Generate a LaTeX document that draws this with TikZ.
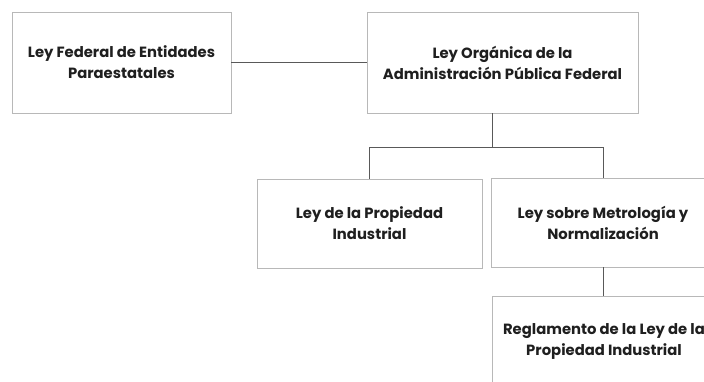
\documentclass[tikz,border=0pt]{standalone}
\usepackage{fontspec}
\setmainfont{Poppins}
\begin{document}
\begin{tikzpicture}[x=1pt,y=-1pt,
  box/.style={draw=black!28, line width=0.8pt, fill=white, minimum width=#1, align=center, text=black!88, font=\bfseries\fontsize{14.8}{21}\selectfont, inner sep=0pt},
  link/.style={draw=black!65, line width=0.9pt}]
\useasboundingbox (0,0) rectangle (704,381);
\clip (0,0) rectangle (704,381);
\fill[white] (0,0) rectangle (704,381);
\node[box=219pt, minimum height=101pt] (lfe) at (121.5,62.5) {Ley Federal de Entidades\\Paraestatales};
\node[box=271pt, minimum height=101pt] (loa) at (502.5,62.5) {Ley Orgánica de la\\Administración Pública Federal};
\node[box=225pt, minimum height=89pt] (lpi) at (369.5,223.5) {Ley de la Propiedad\\Industrial};
\node[box=224pt, minimum height=89pt] (lmn) at (603,222.5) {Ley sobre Metrología y\\Normalización};
\node[box=224pt, minimum height=90pt] (rlp) at (604,341) {Reglamento de la Ley de la\\Propiedad Industrial};
\coordinate (j) at (492,147);
\draw[link] (lfe.east) -- (loa.west);
\draw[link] (loa.south -| j) -- (j);
\draw[link] (j) -- (j -| lpi.north) -- (lpi.north);
\draw[link] (j) -- (j -| lmn.north) -- (lmn.north);
\draw[link] (lmn.south) -- (rlp.north -| lmn.south);
\end{tikzpicture}
\end{document}
